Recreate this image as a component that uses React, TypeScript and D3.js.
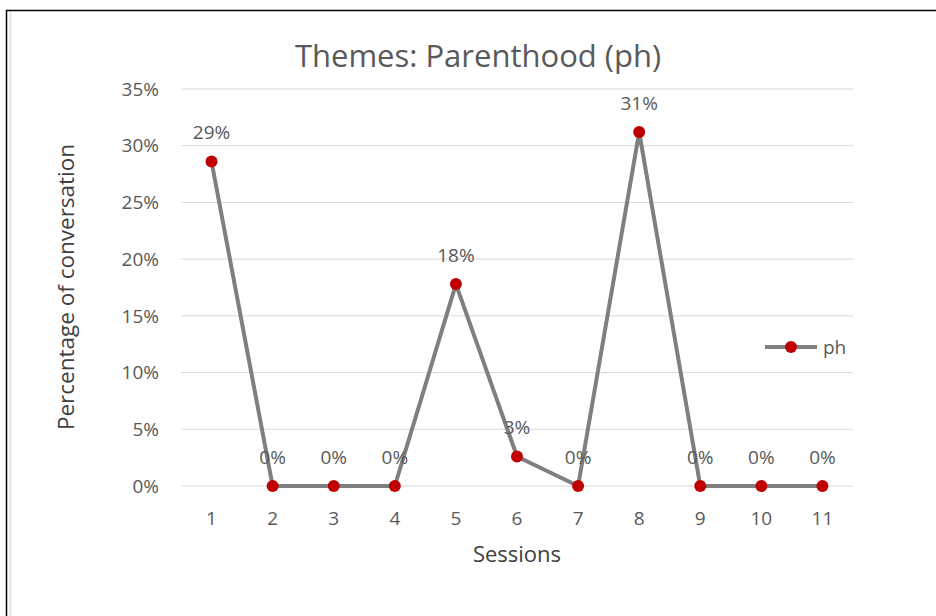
import React, {useEffect, useRef} from 'react';
import * as d3 from 'd3';

const sessions: string[] = ['1', '2', '3', '4', '5', '6', '7', '8', '9', '10', '11'];
const phValues: number[] = [0.286, 0, 0, 0, 0.178, 0.026, 0, 0.312, 0, 0, 0];
const phLabels: string[] = ['29%', '0%', '0%', '0%', '18%', '3%', '0%', '31%', '0%', '0%', '0%'];
const yTicks: number[] = [0, 0.05, 0.1, 0.15, 0.2, 0.25, 0.3, 0.35];

const W = 936;
const H = 616;
const FONT = '"Open Sans", "Noto Sans", sans-serif';

const App: React.FC = () => {
  const ref = useRef<SVGSVGElement>(null);

  useEffect(() => {
    const svg = d3.select(ref.current);
    svg.selectAll('*').remove();

    const left = 181, right = 853, top = 89, bottom = 486;

    const x = d3.scaleBand<string>().domain(sessions).range([left, right]);
    const y = d3.scaleLinear().domain([0, 0.35]).range([bottom, top]);
    const cx = (s: string) => x(s)! + x.bandwidth() / 2;

    // frame
    svg.append('rect')
    .attr('x', 6.5).attr('y', 10.5)
    .attr('width', W + 20).attr('height', H + 20)
    .attr('fill', 'none').attr('stroke', '#000').attr('stroke-width', 1.5);
    svg.append('line')
    .attr('x1', 10.5).attr('x2', 10.5).attr('y1', 12).attr('y2', H)
    .attr('stroke', '#e6e6e6').attr('stroke-width', 2);

    // title
    svg.append('text')
    .attr('x', 478).attr('y', 56)
    .attr('dy', '0.35em')
    .attr('text-anchor', 'middle')
    .style('font-family', FONT).style('font-size', '31px')
    .style('fill', '#595959')
    .text('Themes: Parenthood (ph)');

    // gridlines
    svg.append('g').selectAll('line')
    .data(yTicks)
    .join('line')
    .attr('x1', left).attr('x2', right)
    .attr('y1', d => y(d)).attr('y2', d => y(d))
    .attr('stroke', '#d9d9d9').attr('stroke-width', 1);

    // y tick labels
    svg.append('g').selectAll('text')
    .data(yTicks)
    .join('text')
    .attr('x', 159).attr('y', d => y(d))
    .attr('dy', '0.35em')
    .attr('text-anchor', 'end')
    .style('font-family', FONT).style('font-size', '19px')
    .style('fill', '#595959')
    .text(d => d3.format('.0%')(d));

    // x tick labels
    svg.append('g').selectAll('text')
    .data(sessions)
    .join('text')
    .attr('x', d => cx(d)).attr('y', 518)
    .attr('dy', '0.35em')
    .attr('text-anchor', 'middle')
    .style('font-family', FONT).style('font-size', '19px')
    .style('fill', '#595959')
    .text(d => d);

    // axis titles
    svg.append('text')
    .attr('x', 517).attr('y', 554)
    .attr('dy', '0.35em')
    .attr('text-anchor', 'middle')
    .style('font-family', FONT).style('font-size', '22px')
    .style('fill', '#404040')
    .text('Sessions');

    svg.append('text')
    .attr('transform', 'translate(66,287) rotate(-90)')
    .attr('dy', '0.35em')
    .attr('text-anchor', 'middle')
    .style('font-family', FONT).style('font-size', '22.5px')
    .style('fill', '#404040')
    .text('Percentage of conversation');

    // line
    const line = d3.line<number>()
    .x((_, i) => cx(sessions[i]))
    .y(d => y(d));

    svg.append('path')
    .datum(phValues)
    .attr('d', line)
    .attr('fill', 'none')
    .attr('stroke', '#7f7f7f')
    .attr('stroke-width', 4)
    .attr('stroke-linejoin', 'round');

    svg.append('g').selectAll('circle')
    .data(phValues)
    .join('circle')
    .attr('cx', (_, i) => cx(sessions[i]))
    .attr('cy', d => y(d))
    .attr('r', 6)
    .attr('fill', '#c00000');

    // data labels
    svg.append('g').selectAll('text')
    .data(phValues)
    .join('text')
    .attr('x', (_, i) => cx(sessions[i]))
    .attr('y', d => y(d) - 29)
    .attr('dy', '0.35em')
    .attr('text-anchor', 'middle')
    .style('font-family', FONT).style('font-size', '19px')
    .style('fill', '#595959')
    .text((_, i) => phLabels[i]);

    // legend
    const lg = svg.append('g').attr('transform', 'translate(765,347)');
    lg.append('line')
    .attr('x1', 0).attr('x2', 52).attr('y1', 0).attr('y2', 0)
    .attr('stroke', '#7f7f7f').attr('stroke-width', 4);
    lg.append('circle')
    .attr('cx', 26).attr('cy', 0).attr('r', 6)
    .attr('fill', '#c00000');
    lg.append('text')
    .attr('x', 58).attr('y', 0)
    .attr('dy', '0.35em')
    .style('font-family', FONT).style('font-size', '19px')
    .style('fill', '#595959')
    .text('ph');
  }, []);

  return <svg ref={ref} width={W} height={H}
              style={{position: 'absolute', left: 0, top: 0, background: '#fff'}}/>;
};

export default App;
